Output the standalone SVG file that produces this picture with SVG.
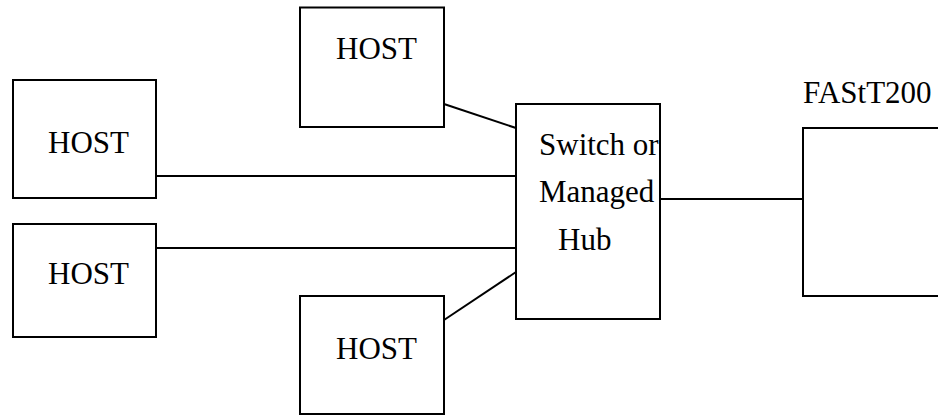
<svg xmlns="http://www.w3.org/2000/svg" width="938" height="416" viewBox="0 0 938 416">
<style>
.box{fill:#fff;stroke:#000;stroke-width:2}
.ln{stroke:#000;stroke-width:2;fill:none}
text{font-family:"Liberation Serif","Times New Roman",serif;font-size:31px;fill:#000}
</style>
<rect width="938" height="416" fill="#fff"/>
<g id="connectors">
<line class="ln" x1="444" y1="104" x2="516" y2="128"/>
<line class="ln" x1="156" y1="176" x2="516" y2="176"/>
<line class="ln" x1="156" y1="248" x2="516" y2="248"/>
<line class="ln" x1="444" y1="320" x2="516" y2="272"/>
<line class="ln" x1="660" y1="199" x2="803" y2="199"/>
</g>
<g id="host-top">
<rect class="box" x="300" y="7.5" width="144" height="119.5"/>
<text x="336" y="59">HOST</text>
</g>
<g id="host-left-top">
<rect class="box" x="13" y="80" width="143" height="118"/>
<text x="48" y="153">HOST</text>
</g>
<g id="host-left-bottom">
<rect class="box" x="13" y="224" width="143" height="113"/>
<text x="48" y="284">HOST</text>
</g>
<g id="host-bottom">
<rect class="box" x="300" y="296" width="144" height="118"/>
<text x="336" y="359">HOST</text>
</g>
<g id="switch">
<rect class="box" x="516" y="104" width="144" height="215"/>
<text x="539" y="155">Switch or</text>
<text x="539" y="202">Managed</text>
<text x="558" y="250">Hub</text>
</g>
<g id="fastt200">
<rect class="box" x="803" y="128" width="150" height="168"/>
<text x="803" y="103">FAStT200</text>
</g>
</svg>
